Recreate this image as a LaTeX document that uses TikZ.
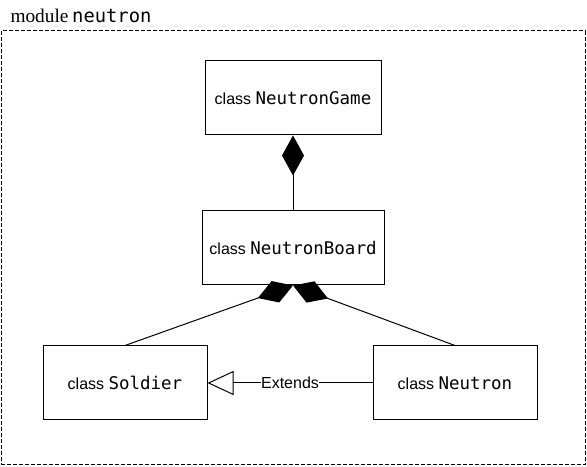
\documentclass[tikz,border=0pt]{standalone}
\usepackage{fontspec}
\setmainfont{Liberation Sans}
\setmonofont{DejaVu Sans Mono}
\newfontfamily\modfont{Liberation Serif}
\usetikzlibrary{arrows.meta,positioning}
\newcommand{\cname}[1]{{\fontsize{13.1}{15}\ttfamily #1}}

\begin{document}
\begin{tikzpicture}[x = 0.75pt, y = -0.75pt, line width = 0.75pt]
	\tikzstyle{every node} = [inner sep = 0pt]
	\tikzstyle{cls} = [rectangle, draw = black, minimum height = 55.5pt, font = \fontsize{12}{14}\selectfont]
	\tikzstyle{owns} = [-{Diamond[length = 28pt, width = 17pt]}]
\useasboundingbox (0, 0) rectangle (587, 467);
\node[draw = black, dash pattern = on 3pt off 1.5pt, minimum width = 438pt, minimum height = 325.5pt] (mod) at (293, 248) {};
\node[anchor = base west] (modlabel) at (10, 23) {{\fontsize{14.5}{16}\modfont module} {\fontsize{14.1}{16}\ttfamily neutron}};
\node[cls, minimum width = 132pt] (game) at (293, 98) {class \cname{NeutronGame}};
\node[cls, minimum width = 136.5pt] (board) at (293, 248) {class \cname{NeutronBoard}};
\node[cls, minimum width = 123pt] (soldier) at (125, 383) {class \cname{Soldier}};
\node[cls, minimum width = 123pt] (neutron) at (455, 383) {class \cname{Neutron}};

	\path[draw, -{Diamond[length = 30pt, width = 16.5pt]}] (board) -- (game);
	\path[draw, owns] (soldier.north) -- (board.south);
	\path[draw, owns] (neutron.north) -- (board.south);
	\path[draw, -{Triangle[open, length = 19.5pt, width = 18pt]}] (neutron) -- node[fill = white, font = \fontsize{12}{14}\selectfont] (ext) {Extends} (soldier);
	\end{tikzpicture}
\end{document}
